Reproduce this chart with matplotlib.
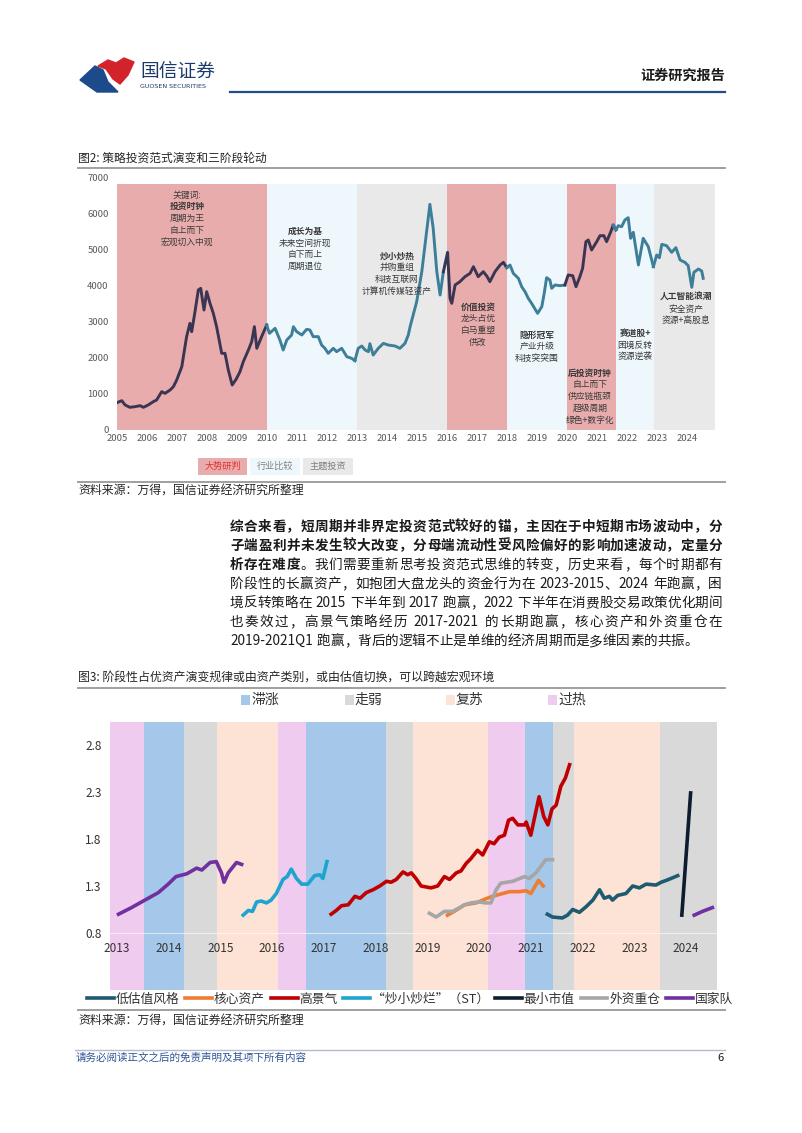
import numpy as np
import matplotlib
matplotlib.use("Agg")
import matplotlib.pyplot as plt
from matplotlib.patches import Rectangle, Polygon
from matplotlib.lines import Line2D

plt.rcParams['font.family'] = ['Noto Sans CJK SC', 'DejaVu Sans']

# ---------------- data: figure 2 (index + regime bands) ----------------
idx_years = [2005.00, 2005.16, 2005.27, 2005.43, 2005.60, 2005.77, 2005.88, 2006.04, 2006.21, 2006.32,
             2006.49, 2006.60, 2006.77, 2006.88, 2006.99, 2007.16, 2007.32, 2007.43, 2007.49, 2007.60,
             2007.71, 2007.79, 2007.90, 2007.99, 2008.10, 2008.21, 2008.32, 2008.49, 2008.60, 2008.71,
             2008.84, 2008.97, 2009.10, 2009.21, 2009.38, 2009.49, 2009.58, 2009.66, 2009.82, 2009.99,
             2010.08, 2010.27, 2010.43, 2010.54, 2010.66, 2010.82, 2010.88, 2010.99, 2011.16, 2011.32,
             2011.43, 2011.54, 2011.71, 2011.82, 2011.93, 2012.04, 2012.21, 2012.32, 2012.49, 2012.66,
             2012.82, 2012.93, 2013.04, 2013.16, 2013.27, 2013.38, 2013.43, 2013.54, 2013.71, 2013.88,
             2014.04, 2014.27, 2014.43, 2014.60, 2014.71, 2014.77, 2014.99, 2015.16, 2015.32, 2015.43,
             2015.54, 2015.66, 2015.77, 2015.88, 2016.02, 2016.10, 2016.16, 2016.27, 2016.43, 2016.60,
             2016.77, 2016.88, 2017.04, 2017.21, 2017.34, 2017.43, 2017.60, 2017.77, 2017.88, 2017.99,
             2018.10, 2018.21, 2018.38, 2018.49, 2018.60, 2018.71, 2018.82, 2019.02, 2019.16, 2019.24,
             2019.32, 2019.43, 2019.49, 2019.60, 2019.77, 2019.93, 2020.04, 2020.19, 2020.30, 2020.43,
             2020.52, 2020.63, 2020.71, 2020.82, 2020.99, 2021.10, 2021.23, 2021.32, 2021.46, 2021.54,
             2021.63, 2021.71, 2021.82, 2021.93, 2022.04, 2022.12, 2022.21, 2022.38, 2022.54, 2022.71,
             2022.88, 2022.99, 2023.08, 2023.16, 2023.32, 2023.49, 2023.63, 2023.77, 2023.93, 2024.04,
             2024.16, 2024.23, 2024.38, 2024.49, 2024.54]
idx_values = [760, 814, 695, 630, 648, 676, 630, 695, 787, 833,
              1065, 1018, 1111, 1204, 1389, 1759, 2593, 2963, 2731, 3287,
              3889, 3935, 3333, 3843, 3519, 3241, 2870, 2130, 2130, 1667,
              1250, 1408, 1620, 1898, 2222, 2454, 2870, 2269, 2593, 2917,
              2685, 2824, 2500, 2222, 2500, 2639, 2870, 2731, 2639, 2796,
              2778, 2593, 2593, 2361, 2269, 2130, 2269, 2176, 2269, 2037,
              1991, 1926, 2269, 2333, 2222, 2176, 2398, 2083, 2269, 2407,
              2361, 2333, 2269, 2407, 2639, 2870, 3565, 4398, 5509, 6269,
              5602, 4398, 3750, 4398, 4935, 3657, 3519, 4028, 4120, 4259,
              4352, 4537, 4259, 4398, 4259, 4120, 4398, 4583, 4658, 4509,
              4583, 4352, 4213, 3981, 3843, 3657, 3519, 3241, 3426, 3796,
              4231, 4167, 3935, 4028, 4009, 4028, 4306, 4287, 3981, 4259,
              4491, 5231, 5278, 5000, 5231, 5398, 5398, 5231, 5509, 5694,
              5556, 5676, 5648, 5833, 5898, 5324, 5491, 4583, 5324, 5093,
              4537, 4861, 4787, 5157, 5120, 4935, 5065, 4722, 4657, 4565,
              3963, 4380, 4472, 4417, 4213]

regime_starts = [2005, 2010, 2013, 2016, 2018, 2020, 2021.63, 2022.9]
regime_ends = [2010, 2013, 2016, 2018, 2020, 2021.63, 2022.9, 2024.93]
regime_kinds = ['大势研判', '行业比较', '主题投资', '大势研判', '行业比较', '大势研判', '行业比较', '主题投资']

note_x = [2007.33, 2011.27, 2014.33, 2017.03, 2019.0, 2020.77, 2022.27, 2023.97]
note_top = [6528, 5528, 4833, 3417, 2639, 1583, 2694, 3694]
note_lines = [["关键词:", "投资时钟", "周期为王", "自上而下", "宏观切入中观"],
              ["成长为基", "未来空间折现", "自下而上", "周期退位"],
              ["炒小炒热", "并购重组", "科技互联网", "计算机传媒轻资产"],
              ["价值投资", "龙头占优", "白马重塑", "供改"],
              ["隐形冠军", "产业升级", "科技突突围"],
              ["后投资时钟", "自上而下", "供应链瓶颈", "超级周期", "绿色+数字化"],
              ["赛道股+", "困境反转", "资源逆袭"],
              ["人工智能浪潮", "安全资产", "资源+高股息"]]
note_bold = [1, 0, 0, 0, 0, 0, 0, 0]

# ---------------- data: figure 3 (style lines + macro bands) ----------------
macro_starts = [2012.865, 2013.52, 2014.29, 2014.93, 2016.12, 2016.65, 2018.2, 2018.72, 2020.17, 2020.88, 2021.42, 2021.84, 2023.5]
macro_ends = [2013.52, 2014.29, 2014.93, 2016.12, 2016.65, 2018.2, 2018.72, 2020.17, 2020.88, 2021.42, 2021.84, 2023.5, 2024.6]
macro_kinds = ['过热', '滞涨', '走弱', '复苏', '过热', '滞涨', '走弱', '复苏', '过热', '滞涨', '走弱', '复苏', '走弱']

low_val_x = [2021.32, 2021.42, 2021.61, 2021.71, 2021.81, 2021.94, 2022.07, 2022.20, 2022.33, 2022.42, 2022.52,
             2022.58, 2022.68, 2022.84, 2022.97, 2023.10, 2023.23, 2023.42, 2023.52, 2023.62, 2023.71, 2023.84]
low_val_y = [1.00, 0.97, 0.96, 0.99, 1.05, 1.02, 1.08, 1.15, 1.26, 1.17, 1.19,
             1.15, 1.20, 1.22, 1.30, 1.28, 1.32, 1.31, 1.34, 1.36, 1.38, 1.41]
core_x = [2019.39, 2019.52, 2019.72, 2019.94, 2020.16, 2020.26, 2020.39, 2020.59, 2020.78, 2020.91, 2021.00, 2021.15, 2021.24]
core_y = [0.99, 1.03, 1.10, 1.12, 1.17, 1.19, 1.21, 1.24, 1.24, 1.25, 1.22, 1.36, 1.30]
boom_x = [2017.14, 2017.24, 2017.34, 2017.47, 2017.60, 2017.70, 2017.82, 2017.95, 2018.08, 2018.21, 2018.30, 2018.40,
          2018.53, 2018.62, 2018.69, 2018.78, 2018.88, 2019.07, 2019.20, 2019.33, 2019.43, 2019.56, 2019.65, 2019.75,
          2019.84, 2019.97, 2020.07, 2020.20, 2020.29, 2020.39, 2020.49, 2020.57, 2020.65, 2020.75, 2020.88, 2020.91,
          2021.00, 2021.16, 2021.25, 2021.33, 2021.41, 2021.49, 2021.58, 2021.67, 2021.75]
boom_y = [1.00, 1.04, 1.09, 1.10, 1.19, 1.17, 1.23, 1.26, 1.30, 1.35, 1.34, 1.37,
          1.45, 1.42, 1.44, 1.38, 1.30, 1.28, 1.30, 1.40, 1.37, 1.44, 1.46, 1.54,
          1.59, 1.68, 1.63, 1.77, 1.75, 1.82, 1.84, 2.00, 2.02, 1.95, 1.95, 1.98,
          1.84, 2.25, 2.04, 1.95, 2.12, 2.16, 2.36, 2.45, 2.59]
st_x = [2015.44, 2015.54, 2015.62, 2015.70, 2015.79, 2015.89, 2015.98, 2016.08, 2016.21, 2016.29, 2016.37,
        2016.47, 2016.57, 2016.69, 2016.82, 2016.92, 2016.98, 2017.06]
st_y = [0.99, 1.04, 1.03, 1.13, 1.14, 1.12, 1.15, 1.22, 1.37, 1.40, 1.48,
        1.38, 1.32, 1.32, 1.41, 1.42, 1.38, 1.56]
small_x = [2023.92, 2024.09]
small_y = [0.99, 2.29]
foreign_x = [2019.04, 2019.17, 2019.33, 2019.49, 2019.59, 2019.72, 2019.84, 2020.00, 2020.13, 2020.23, 2020.33,
             2020.42, 2020.65, 2020.88, 2020.97, 2021.10, 2021.29, 2021.42]
foreign_y = [1.01, 0.97, 1.03, 1.03, 1.06, 1.10, 1.12, 1.13, 1.12, 1.12, 1.26,
             1.33, 1.35, 1.40, 1.38, 1.44, 1.58, 1.58]
team_x1 = [2013.03, 2013.28, 2013.54, 2013.80, 2013.99, 2014.14, 2014.35, 2014.54, 2014.64, 2014.80, 2014.92,
           2015.02, 2015.07, 2015.15, 2015.31, 2015.41]
team_y1 = [1.00, 1.07, 1.15, 1.23, 1.32, 1.40, 1.43, 1.49, 1.47, 1.55, 1.56,
           1.44, 1.34, 1.44, 1.55, 1.53]
team_x2 = [2024.16, 2024.32, 2024.51]
team_y2 = [0.99, 1.03, 1.07]

series_names = ['低估值风格', '核心资产', '高景气', '“炒小炒烂”（ST）', '最小市值', '外资重仓', '国家队']

para_lines = [[("综合来看，短周期并非界定投资范式较好的锚，主因在于中短期市场波动中，分", True)],
              [("子端盈利并未发生较大改变，分母端流动性受风险偏好的影响加速波动，定量分", True)],
              [("析存在难度", True), ("。我们需要重新思考投资范式思维的转变，历史来看，每个时期都有", False)],
              [("阶段性的长赢资产，如抱团大盘龙头的资金行为在 2023-2015、2024 年跑赢，困", False)],
              [("境反转策略在 2015 下半年到 2017 跑赢，2022 下半年在消费股交易政策优化期间", False)],
              [("也奏效过，高景气策略经历 2017-2021 的长期跑赢，核心资产和外资重仓在", False)],
              [("2019-2021Q1 跑赢，背后的逻辑不止是单维的经济周期而是多维因素的共振。", False)]]

# ---------------- styles ----------------
W, H = 802, 1133
regime_colors = {'大势研判': '#e9acac', '行业比较': '#eef7fc', '主题投资': '#e9e9e9'}
regime_text = {'大势研判': '#e2302f', '行业比较': '#7f7f7f', '主题投资': '#7f7f7f'}
macro_colors = {'滞涨': '#a5c8ea', '走弱': '#d9d9d9', '复苏': '#fce3d5', '过热': '#efcbef'}
series_colors = ['#1e5b70', '#ed7d31', '#c00000', '#1ea5cf', '#0d1d30', '#a6a6a6', '#7030a0']
txt = '#262626'


def fx(x):
    return x / W


def fy(y):
    return 1 - y / H


fig = plt.figure(figsize=(W / 100, H / 100), dpi=100)
fig.patch.set_facecolor('white')

# ---------------- header ----------------
blue_shape = [(80, 80), (95, 66), (103, 70), (108, 82), (118, 92), (97, 92)]
red_shape = [(98, 66), (108, 60), (116, 63), (124, 58), (134, 62), (128, 75), (120, 84), (113, 79), (106, 69)]
fig.add_artist(Polygon([(fx(a), fy(b)) for a, b in blue_shape], closed=True, color='#1d4a8a',
                       transform=fig.transFigure))
fig.add_artist(Polygon([(fx(a), fy(b)) for a, b in red_shape], closed=True, color='#d2232a',
                       transform=fig.transFigure))
fig.text(fx(140), fy(71), '国信证券', fontsize=13.5, color='#1b3a6b', va='center', ha='left')
fig.text(fx(140), fy(87), 'GUOSEN SECURITIES', fontsize=4.6, color='#1b3a6b', va='center', ha='left',
         family='DejaVu Sans')
fig.text(fx(725), fy(76), '证券研究报告', fontsize=10.2, fontweight='bold', color='#1a1a1a', va='center', ha='right')
fig.add_artist(Line2D([fx(230), fx(725)], [fy(92), fy(92)], color='#1f4e8c', lw=1.6, transform=fig.transFigure))

# ---------------- figure 2 ----------------
fig.text(fx(78), fy(158), '图2: 策略投资范式演变和三阶段轮动', fontsize=8.5, color=txt, va='center', ha='left')
fig.add_artist(Line2D([fx(78), fx(725)], [fy(168), fy(168)], color='#a0a0a0', lw=1.4, transform=fig.transFigure))

ax1 = fig.add_axes([fx(117), fy(430), 600 / W, 252 / H])
for s, e, k in zip(regime_starts, regime_ends, regime_kinds):
    ax1.axvspan(s, e, ymin=0, ymax=6830 / 7000, color=regime_colors[k], lw=0, zorder=0)

yrs = np.array(idx_years)
vals = np.array(idx_values)
for s, e, k in zip(regime_starts, regime_ends, regime_kinds):
    sel = np.where((yrs >= s) & (yrs <= e))[0]
    if len(sel) == 0:
        continue
    if sel[0] > 0:
        sel = np.concatenate([[sel[0] - 1], sel])
    col = '#3a3553' if k == '大势研判' else '#3d7f98'
    ax1.plot(yrs[sel], vals[sel], color=col, lw=2.1, solid_joinstyle='round', zorder=3)

for x, top, lines, b in zip(note_x, note_top, note_lines, note_bold):
    for i, line in enumerate(lines):
        ax1.text(x, top - i * 330, line, ha='center', va='center', fontsize=6.3,
                 fontweight='bold' if i == b else 'normal', color='#3a3a3a', zorder=4)

ax1.set_xlim(2005, 2025)
ax1.set_ylim(0, 7000)
ax1.set_xticks(range(2005, 2025))
ax1.set_yticks(range(0, 7001, 1000))
ax1.tick_params(length=0, labelsize=6.8, labelcolor='#595959')
ax1.tick_params(axis='y', pad=6)
ax1.tick_params(axis='x', pad=3)
for sp in ax1.spines.values():
    sp.set_visible(False)
ax1.set_facecolor('none')

# legend boxes under figure 2
for (x0, x1), k in zip([(198, 247), (250, 300), (303, 353)], ['大势研判', '行业比较', '主题投资']):
    fig.add_artist(Rectangle((fx(x0), fy(475)), (x1 - x0) / W, 17 / H, color=regime_colors[k],
                             lw=0, transform=fig.transFigure))
    fig.text(fx((x0 + x1) / 2), fy(466.5), k, fontsize=6.6, color=regime_text[k], ha='center', va='center')

fig.add_artist(Line2D([fx(78), fx(725)], [fy(482), fy(482)], color='#a0a0a0', lw=1.4, transform=fig.transFigure))
fig.text(fx(78), fy(491), '资料来源：万得，国信证券经济研究所整理', fontsize=8.6, color=txt, va='center', ha='left')

# ---------------- paragraph ----------------
renderer = fig.canvas.get_renderer()


def draw_line(segs, x0, x1, y, size, justify):
    tokens = []
    for s, b in segs:
        buf = ''
        for ch in s:
            if ord(ch) < 128 and ch != ' ':
                buf += ch
            else:
                if buf:
                    tokens.append((buf, b))
                    buf = ''
                tokens.append((ch, b))
        if buf:
            tokens.append((buf, b))
    arts, widths = [], []
    for t, b in tokens:
        if t == ' ':
            arts.append(None)
            widths.append(size * 100 / 72 * 0.28)
            continue
        a = fig.text(0, fy(y), t, fontsize=size, fontweight='bold' if b else 'normal',
                     color='#1a1a1a', ha='left', va='center')
        arts.append(a)
        widths.append(a.get_window_extent(renderer).width)
    gap = (x1 - x0 - sum(widths)) / (len(tokens) - 1) if justify else 0.0
    x = x0
    for a, w in zip(arts, widths):
        if a is not None:
            a.set_x(fx(x))
        x += w + gap


for i, segs in enumerate(para_lines):
    draw_line(segs, 230, 722, 527 + i * 19, 9.8, i < len(para_lines) - 1)

# ---------------- figure 3 ----------------
fig.text(fx(78), fy(677), '图3: 阶段性占优资产演变规律或由资产类别，或由估值切换，可以跨越宏观环境',
         fontsize=8.6, color=txt, va='center', ha='left')
fig.add_artist(Line2D([fx(78), fx(725)], [fy(688), fy(688)], color='#a0a0a0', lw=1.4, transform=fig.transFigure))

for x, k in zip([241, 345, 446, 548], ['滞涨', '走弱', '复苏', '过热']):
    fig.add_artist(Rectangle((fx(x), fy(705)), 9 / W, 10 / H, color=macro_colors[k], lw=0,
                             transform=fig.transFigure))
    fig.text(fx(x + 10), fy(700), k, fontsize=10, color='#333333', ha='left', va='center')

ax2 = fig.add_axes([fx(110), fy(990), 607 / W, 268 / H])
for s, e, k in zip(macro_starts, macro_ends, macro_kinds):
    ax2.axvspan(s, e, color=macro_colors[k], lw=0, zorder=0)
ax2.axhline(0.8, color='white', lw=0.8, alpha=0.6, zorder=1)

series = [(low_val_x, low_val_y, 0), (core_x, core_y, 1), (boom_x, boom_y, 2), (st_x, st_y, 3),
          (small_x, small_y, 4), (foreign_x, foreign_y, 5), (team_x1, team_y1, 6), (team_x2, team_y2, 6)]
for xs, ys, c in series:
    ax2.plot(xs, ys, color=series_colors[c], lw=2.6, solid_joinstyle='round', zorder=3)

for yr in range(2013, 2025):
    ax2.text(yr, 0.63, str(yr), ha='center', va='center', fontsize=8.5, color='#333333', zorder=4)

y0, y1 = 0.8 - (990 - 933) / 94, 0.8 + (933 - 722) / 94
ax2.set_xlim(2012.865, 2024.6)
ax2.set_ylim(y0, y1)
ax2.set_xticks([])
ax2.set_yticks([0.8, 1.3, 1.8, 2.3, 2.8])
ax2.set_yticklabels(['0.8', '1.3', '1.8', '2.3', '2.8'])
ax2.tick_params(length=0, labelsize=8.5, labelcolor='#333333', pad=6)
for sp in ax2.spines.values():
    sp.set_visible(False)

handles = [Line2D([0], [0], color=c, lw=2.6) for c in series_colors]
fig.legend(handles, series_names, loc='center', bbox_to_anchor=(fx(410), fy(999)), ncol=7, frameon=False,
           fontsize=9.2, handlelength=2.1, handletextpad=0.15, columnspacing=0.45, borderpad=0,
           labelcolor='#333333')

fig.add_artist(Line2D([fx(78), fx(725)], [fy(1010), fy(1010)], color='#a0a0a0', lw=1.4, transform=fig.transFigure))
fig.text(fx(78), fy(1021), '资料来源：万得，国信证券经济研究所整理', fontsize=8.6, color=txt, va='center', ha='left')

# ---------------- footer ----------------
fig.add_artist(Line2D([fx(75), fx(725)], [fy(1050), fy(1050)], color='#b4bccb', lw=1.0, transform=fig.transFigure))
fig.text(fx(76), fy(1058), '请务必阅读正文之后的免责声明及其项下所有内容', fontsize=7.6, color='#2f5597',
         style='italic', va='center', ha='left')
fig.text(fx(724), fy(1058), '6', fontsize=8, color='#1a1a1a', va='center', ha='right')

fig.savefig('out.png', dpi=100, facecolor='white')
